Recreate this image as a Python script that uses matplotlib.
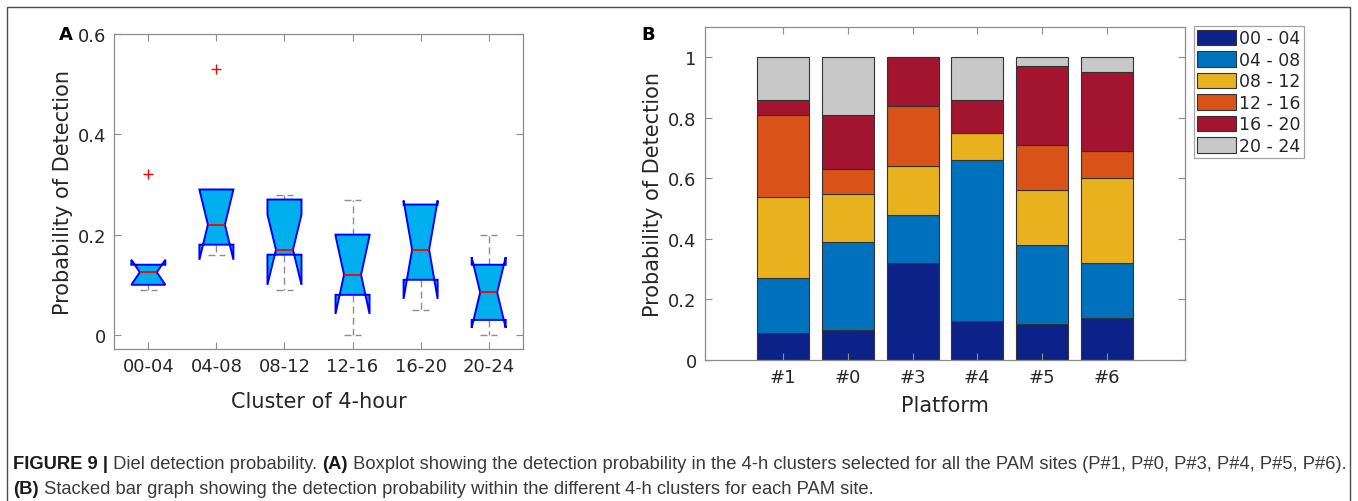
import matplotlib
matplotlib.use("Agg")
import matplotlib.pyplot as plt
from matplotlib.patches import Rectangle

# panel A : boxplot stats per 4-hour cluster
clusters = ["00-04", "04-08", "08-12", "12-16", "16-20", "20-24"]
q1 = [0.10, 0.18, 0.16, 0.08, 0.11, 0.03]
med = [0.125, 0.22, 0.17, 0.12, 0.17, 0.085]
q3 = [0.14, 0.29, 0.27, 0.20, 0.26, 0.14]
whislo = [0.09, 0.16, 0.09, 0.0, 0.05, 0.0]
whishi = [0.14, 0.29, 0.28, 0.27, 0.26, 0.20]
cilo = [0.10, 0.15, 0.10, 0.042, 0.072, 0.014]
cihi = [0.15, 0.29, 0.24, 0.198, 0.268, 0.155]
outliers = [[0.32], [0.53], [], [], [], []]

# panel B : stacked probabilities per platform
platforms = ["#1", "#0", "#3", "#4", "#5", "#6"]
slots = ["00 - 04", "04 - 08", "08 - 12", "12 - 16", "16 - 20", "20 - 24"]
p_00_04 = [0.09, 0.10, 0.32, 0.13, 0.12, 0.14]
p_04_08 = [0.18, 0.29, 0.16, 0.53, 0.26, 0.18]
p_08_12 = [0.27, 0.16, 0.16, 0.09, 0.18, 0.28]
p_12_16 = [0.27, 0.08, 0.20, 0.00, 0.15, 0.09]
p_16_20 = [0.05, 0.18, 0.16, 0.11, 0.26, 0.26]
p_20_24 = [0.14, 0.19, 0.00, 0.14, 0.03, 0.05]
colores = ["#0d2289", "#0072bd", "#e9b11e", "#d95319", "#a2142f", "#c8c8c8"]

W, H = 1358, 502
fig = plt.figure(figsize=(W / 100, H / 100), dpi=100)
fig.patch.set_facecolor("white")

txt = "#262626"
frame = "#8c8c8c"


def estilo(ax):
  for s in ax.spines.values():
    s.set_color(frame)
    s.set_linewidth(0.9)
  ax.tick_params(direction="in", length=5, width=0.8, color=frame, labelcolor=txt,
                 labelsize=13, top=True, right=True, pad=6)


#INICIO PLOT A
axA = fig.add_axes([114.3 / W, 1 - 350 / H, 408.4 / W, 315 / H])
stats = []
for i in range(len(clusters)):
  stats.append(dict(med=med[i], q1=q1[i], q3=q3[i], whislo=whislo[i], whishi=whishi[i],
                    cilo=cilo[i], cihi=cihi[i], fliers=outliers[i]))
axA.bxp(stats, positions=range(1, 7), widths=0.5, shownotches=True, patch_artist=True,
        boxprops=dict(facecolor="#00b0ee", edgecolor="#0000ff", linewidth=1.4, zorder=3),
        medianprops=dict(color="red", linewidth=1.3, zorder=4),
        whiskerprops=dict(color="#8c8c8c", linestyle=(0, (5, 3)), linewidth=1.0, zorder=2),
        capprops=dict(color="#8c8c8c", linestyle=(0, (5, 3)), linewidth=1.0, zorder=2),
        flierprops=dict(marker="+", markeredgecolor="red", markersize=7, linestyle="none"))
axA.set_xlim(0.5, 6.5)
axA.set_ylim(-0.028, 0.6)
axA.set_yticks([0, 0.2, 0.4, 0.6])
axA.set_yticklabels(["0", "0.2", "0.4", "0.6"])
axA.set_xticks(range(1, 7))
axA.set_xticklabels(clusters)
estilo(axA)
axA.set_xlabel("Cluster of 4-hour", fontsize=15, color=txt, labelpad=11)
axA.set_ylabel("Probability of Detection", fontsize=15, color=txt, labelpad=3)
fig.text(66 / W, 1 - 35 / H, "A", fontsize=13, fontweight="bold", ha="center", va="center")
#FIM PLOT A

#INICIO PLOT B
axB = fig.add_axes([705 / W, 1 - 361 / H, 480 / W, 333 / H])
pos = range(1, 7)
series = [p_00_04, p_04_08, p_08_12, p_12_16, p_16_20, p_20_24]
base = [0.0] * 6
for k, vals in enumerate(series):
  axB.bar(pos, vals, 0.8, bottom=base, color=colores[k], edgecolor="#333333",
          linewidth=0.8, label=slots[k])
  base = [b + v for b, v in zip(base, vals)]
axB.set_xlim(-0.2, 7.2)
axB.set_ylim(0, 1.1)
axB.set_yticks([0, 0.2, 0.4, 0.6, 0.8, 1.0])
axB.set_yticklabels(["0", "0.2", "0.4", "0.6", "0.8", "1"])
axB.set_xticks(list(pos))
axB.set_xticklabels(platforms)
estilo(axB)
axB.set_xlabel("Platform", fontsize=15, color=txt, labelpad=6)
axB.set_ylabel("Probability of Detection", fontsize=15, color=txt, labelpad=4)
fig.text(648 / W, 1 - 35 / H, "B", fontsize=13, fontweight="bold", ha="center", va="center")
leg = axB.legend(loc="upper left", bbox_to_anchor=(1194 / W, 1 - 27 / H),
                 bbox_transform=fig.transFigure, borderaxespad=0, fontsize=12.5,
                 frameon=True, fancybox=False, edgecolor=frame, handlelength=2.2,
                 handleheight=1.0, handletextpad=0.2, labelspacing=0.2,
                 borderpad=0.2)
leg.get_frame().set_linewidth(0.9)
for t in leg.get_texts():
  t.set_color(txt)
#FIM PLOT B

# moldura
fig.add_artist(Rectangle((7 / W, -0.1), 1343 / W, 1.1 - 8 / H, transform=fig.transFigure,
                         fill=False, edgecolor="#4d4d4d", linewidth=1.0))

# legenda da figura, pedacos encadeados
fam = ["Liberation Sans Narrow", "Liberation Sans", "DejaVu Sans"]
cap_col = "#3a3a3a"
linhas = [
  [("FIGURE 9 |", "bold"), (" Diel detection probability. ", "normal"), ("(A)", "bold"),
   (" Boxplot showing the detection probability in the 4-h clusters selected for all the PAM sites (P#1, P#0, P#3, P#4, P#5, P#6).", "normal")],
  [("(B)", "bold"),
   (" Stacked bar graph showing the detection probability within the different 4-h clusters for each PAM site.", "normal")],
]
for n, linha in enumerate(linhas):
  y = 1 - (473 + 25 * n) / H
  s, w = linha[0]
  prev = fig.text(13 / W, y, s, fontsize=13.25, fontweight=w, family=fam,
                  color="#1a1a1a", ha="left", va="bottom")
  for s, w in linha[1:]:
    prev = axA.annotate(s, xy=(1, 0), xycoords=prev, ha="left", va="bottom",
                        fontsize=13.25, fontweight=w, family=fam,
                        color="#1a1a1a" if w == "bold" else cap_col,
                        annotation_clip=False)

plt.savefig("out.png", dpi=100)
